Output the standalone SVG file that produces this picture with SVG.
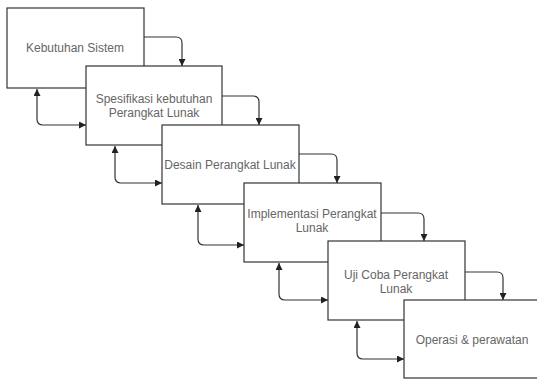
<svg xmlns="http://www.w3.org/2000/svg" width="537" height="379" viewBox="0 0 537 379">
<style>
.box{fill:#fff;stroke:#333;stroke-width:1.2}
.lbl{font-family:"Liberation Sans",Arial,sans-serif;font-size:12px;fill:#666;text-anchor:middle}
.c{fill:none;stroke:#333;stroke-width:1.2}
</style>
<defs>
<marker id="ah" viewBox="0 0 8 8" refX="8" refY="4" markerWidth="7" markerHeight="7" markerUnits="userSpaceOnUse" orient="auto-start-reverse">
<path d="M0,0 L8,4 L0,8 Z" fill="#222"/>
</marker>
</defs>
<rect width="537" height="379" fill="#fff"/>
<g id="n1"><rect class="box" x="7" y="8" width="137" height="80"/><text class="lbl" x="75" y="52">Kebutuhan Sistem</text></g>
<g id="n2"><rect class="box" x="86" y="66" width="136" height="79"/><text class="lbl" x="154" y="103">Spesifikasi kebutuhan</text><text class="lbl" x="154" y="117">Perangkat Lunak</text></g>
<g id="n3"><rect class="box" x="162" y="125" width="137" height="79"/><text class="lbl" x="230" y="169">Desain Perangkat Lunak</text></g>
<g id="n4"><rect class="box" x="244" y="183" width="137" height="79"/><text class="lbl" x="312" y="218">Implementasi Perangkat</text><text class="lbl" x="312" y="232">Lunak</text></g>
<g id="n5"><rect class="box" x="328" y="241" width="137" height="79"/><text class="lbl" x="396" y="279">Uji Coba Perangkat</text><text class="lbl" x="396" y="293">Lunak</text></g>
<g id="n6"><rect class="box" x="404" y="300" width="140" height="78"/><text class="lbl" x="472" y="344">Operasi &amp; perawatan</text></g>
<g id="connectors">
<path class="c" d="M144,37 H176 Q182,37 182,43 V66" marker-end="url(#ah)"/>
<path class="c" d="M222,96 H253 Q259,96 259,102 V125" marker-end="url(#ah)"/>
<path class="c" d="M299,154 H331 Q337,154 337,160 V183" marker-end="url(#ah)"/>
<path class="c" d="M381,213 H418 Q424,213 424,219 V241" marker-end="url(#ah)"/>
<path class="c" d="M465,272 H497 Q503,272 503,278 V300" marker-end="url(#ah)"/>
<path class="c" d="M37,89 V119 Q37,125 43,125 H86" marker-start="url(#ah)" marker-end="url(#ah)"/>
<path class="c" d="M115,146 V177 Q115,183 121,183 H162" marker-start="url(#ah)" marker-end="url(#ah)"/>
<path class="c" d="M198,205 V239 Q198,245 204,245 H244" marker-start="url(#ah)" marker-end="url(#ah)"/>
<path class="c" d="M279,263 V294 Q279,300 285,300 H328" marker-start="url(#ah)" marker-end="url(#ah)"/>
<path class="c" d="M357,321 V353 Q357,359 363,359 H404" marker-start="url(#ah)" marker-end="url(#ah)"/>
</g>
</svg>
